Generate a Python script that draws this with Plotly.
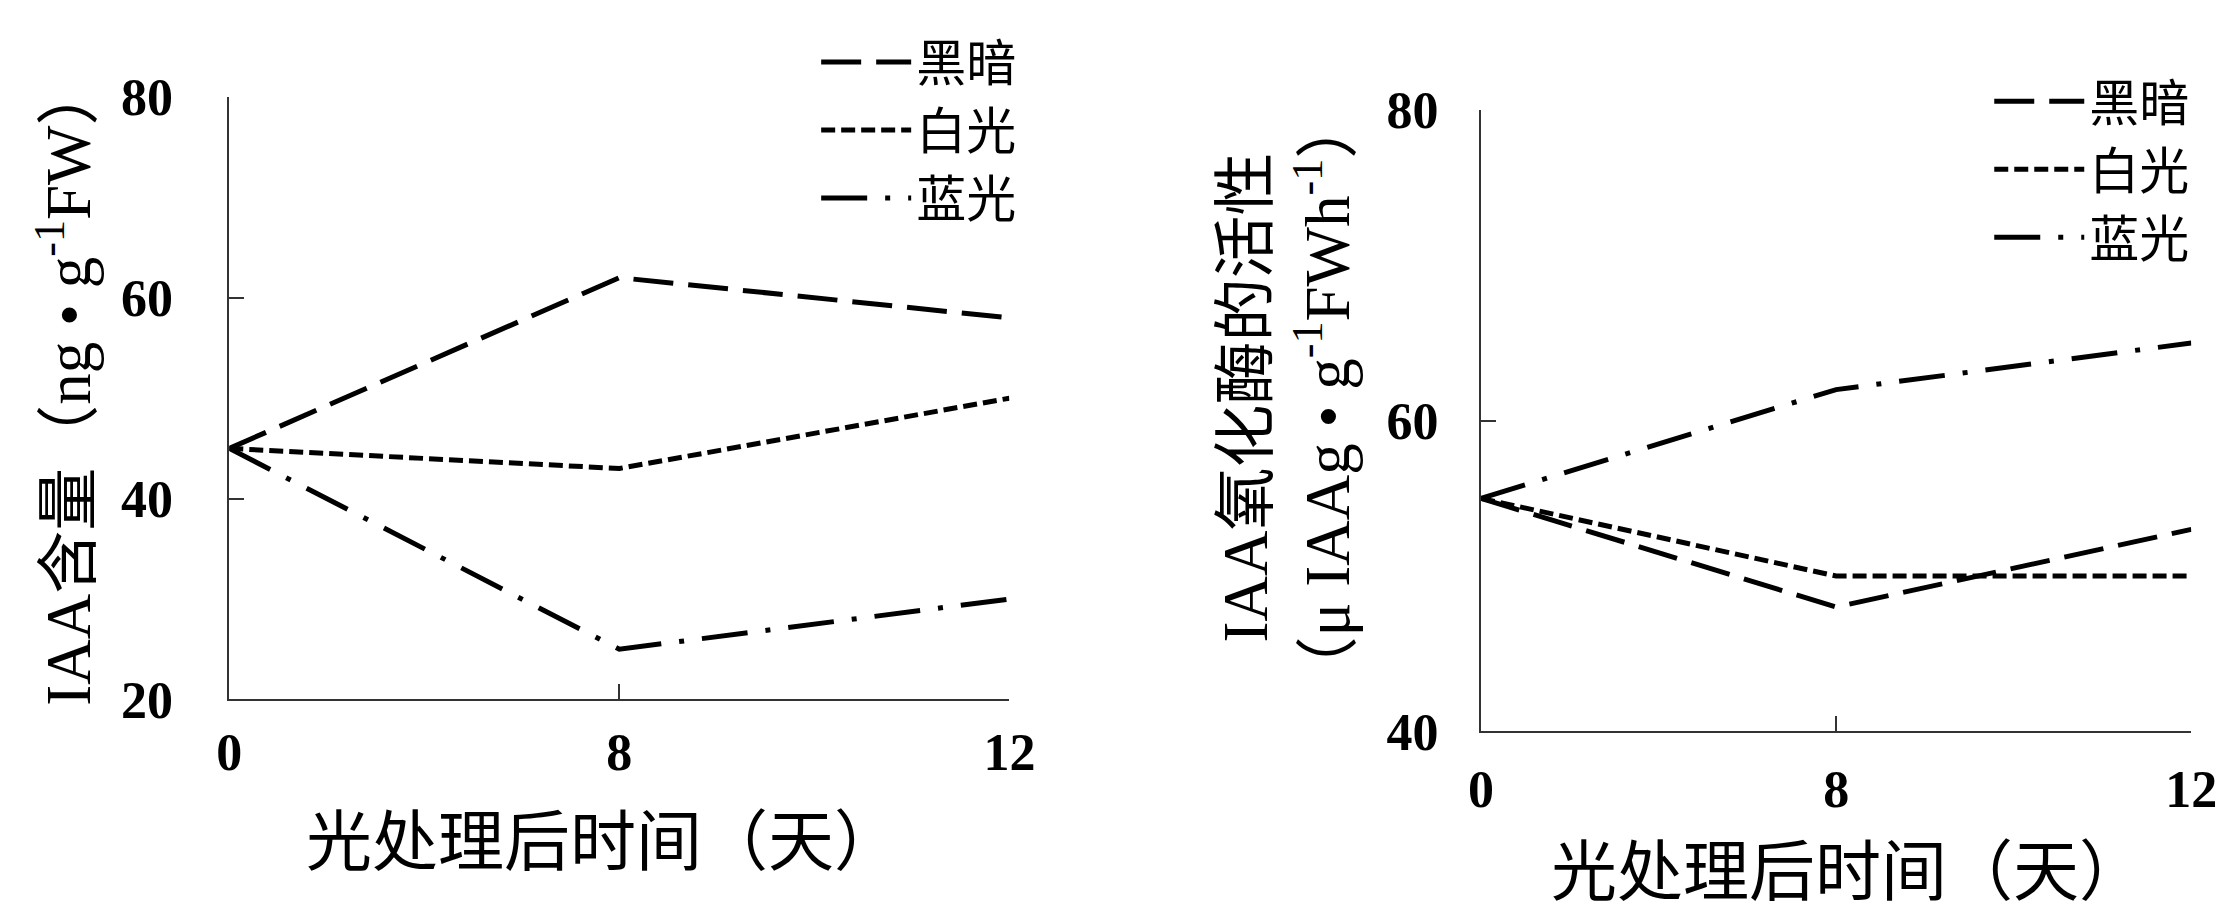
import plotly.graph_objects as go

# ---- data ----
days = ["0", "8", "12"]
series_names = ["黑暗", "白光", "蓝光"]

iaa_dark = [45, 62, 58]
iaa_white = [45, 43, 50]
iaa_blue = [45, 25, 30]

oxidase_dark = [55, 48, 53]
oxidase_white = [55, 50, 50]
oxidase_blue = [55, 62, 65]

y1_ticks = [20, 40, 60, 80]
y2_ticks = [40, 60, 80]

# ---- styles ----
W, H = 2226, 906
LATIN = "Liberation Serif, Noto Sans CJK SC, serif"
dashes = ["40px,15px", "14px,6px", "46px,18px,5px,18px"]
LW = 5

fig = go.Figure()

left_sets = [iaa_dark, iaa_white, iaa_blue]
right_sets = [oxidase_dark, oxidase_white, oxidase_blue]

for name, vals, dsh in zip(series_names, left_sets, dashes):
    fig.add_trace(go.Scatter(x=days, y=vals, mode="lines", name=name,
                             line=dict(color="black", width=LW, dash=dsh),
                             xaxis="x", yaxis="y", legend="legend"))
for name, vals, dsh in zip(series_names, right_sets, dashes):
    fig.add_trace(go.Scatter(x=days, y=vals, mode="lines", name=name,
                             line=dict(color="black", width=LW, dash=dsh),
                             xaxis="x2", yaxis="y2", legend="legend2"))

def px(v, total):
    return v / total

axis_common = dict(showgrid=False, zeroline=False, showline=True,
                   linecolor="#333333", linewidth=2, ticks="inside",
                   tickcolor="#333333", tickwidth=2, ticklen=15,
                   tickfont=dict(family=LATIN, size=52, color="black", weight="bold"))

fig.update_layout(
    width=W, height=H, autosize=False,
    margin=dict(l=0, r=0, t=0, b=0),
    paper_bgcolor="white", plot_bgcolor="white",
    xaxis=dict(domain=[px(212, W), px(1006, W)], anchor="y",
               type="category", categoryorder="array", categoryarray=days,
               range=[0, 2], ticklabelstandoff=6, **axis_common),
    yaxis=dict(domain=[1 - px(708, H), 1 - px(65, H)], anchor="x",
               range=[20, 80], tickvals=y1_ticks, ticklabelstandoff=44,
               **axis_common),
    xaxis2=dict(domain=[px(1486, W), px(2209, W)], anchor="y2",
                type="category", categoryorder="array", categoryarray=days,
                range=[0, 2], ticklabelstandoff=11, **axis_common),
    yaxis2=dict(domain=[1 - px(742, H), 1 - px(79, H)], anchor="x2",
                range=[40, 80], tickvals=y2_ticks, ticklabelstandoff=30,
                **axis_common),
    legend=dict(x=px(1018, W), y=1 + px(14, H), xanchor="right", yanchor="top",
                font=dict(family=LATIN, size=50, color="black"),
                itemwidth=90, tracegroupgap=0, bgcolor="rgba(0,0,0,0)"),
    legend2=dict(x=px(2212, W), y=1 - px(28, H), xanchor="right", yanchor="top",
                 font=dict(family=LATIN, size=50, color="black"),
                 itemwidth=90, tracegroupgap=0, bgcolor="rgba(0,0,0,0)"),
    showlegend=True,
)

title_font = dict(family=LATIN, size=66, color="black")
ytitle_font = dict(family=LATIN, size=63, color="black")

fig.add_annotation(text="光处理后时间（天）", xref="paper", yref="paper",
                   x=px(592, W), y=1 - px(861, H), showarrow=False,
                   font=title_font, xanchor="center", yanchor="middle")
fig.add_annotation(text="光处理后时间（天）", xref="paper", yref="paper",
                   x=px(1860, W), y=1 - px(893, H), showarrow=False,
                   font=title_font, xanchor="center", yanchor="middle")
fig.add_annotation(text="IAA含量（ng • g<sup>-1</sup>FW）", xref="paper", yref="paper",
                   x=px(44, W), y=1 - px(372, H), showarrow=False, textangle=-90,
                   font=ytitle_font, xanchor="center", yanchor="middle")
fig.add_annotation(text="IAA氧化酶的活性<br>（μ IAAg • g<sup>-1</sup>FWh<sup>-1</sup>）",
                   xref="paper", yref="paper",
                   x=px(1288, W), y=1 - px(385, H), showarrow=False, textangle=-90,
                   font=ytitle_font, xanchor="center", yanchor="middle")

fig.write_html("out.html")
